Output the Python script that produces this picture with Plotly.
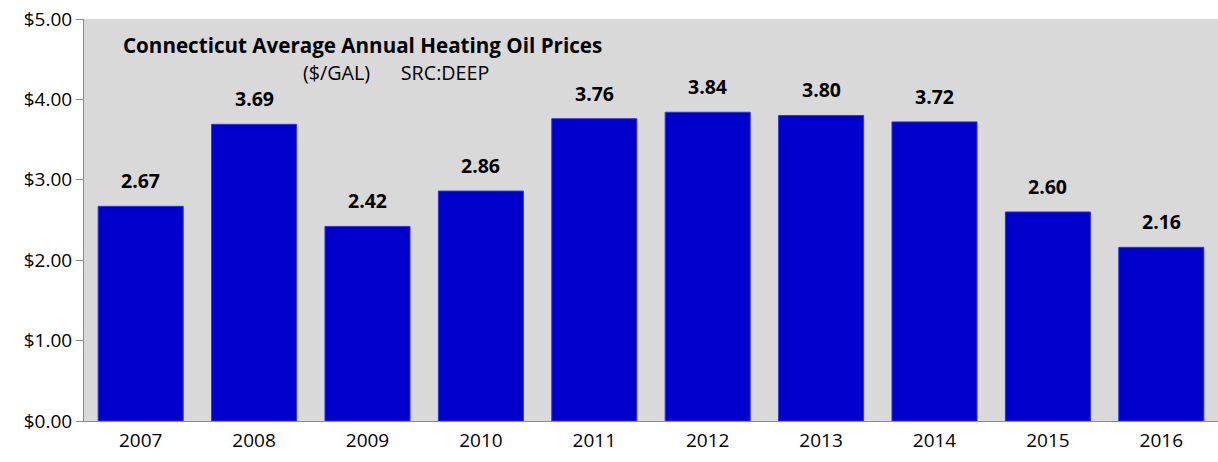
import plotly.graph_objects as go

years = ["2007", "2008", "2009", "2010", "2011", "2012", "2013", "2014", "2015", "2016"]
prices = [2.67, 3.69, 2.42, 2.86, 3.76, 3.84, 3.80, 3.72, 2.60, 2.16]
y_ticks = [0, 1, 2, 3, 4, 5]
y_tick_labels = ["$0.00", "$1.00", "$2.00", "$3.00", "$4.00", "$5.00"]

FONT = "'Open Sans', sans-serif"

PLOT_L, PLOT_R, PLOT_T, PLOT_B = 84, 1218, 19, 421
L, T = PLOT_L, PLOT_T
R, B = 1218 - PLOT_R, 462 - PLOT_B
PW, PH = PLOT_R - PLOT_L, PLOT_B - PLOT_T

fig = go.Figure(go.Bar(
    x=years, y=prices,
    marker=dict(color="#0000CC", line=dict(color="#3333DD", width=1)),
    hoverinfo="x+y",
))

# value labels above bars (category axis -> annotations use category index)
annotations = [
    dict(x=i, y=v, xref="x", yref="y", text=f"<b>{v:.2f}</b>",
         showarrow=False, yanchor="bottom", yshift=10,
         font=dict(family=FONT, size=19.5, color="black"))
    for i, v in enumerate(prices)
]
annotations += [
    dict(text="<b>Connecticut Average Annual Heating Oil Prices</b>",
         xref="paper", yref="paper", x=(121 - PLOT_L) / PW, y=1 - (45 - PLOT_T) / PH,
         xanchor="left", yanchor="middle", showarrow=False,
         font=dict(family=FONT, size=20.6, color="black")),
    dict(text="($/GAL)&nbsp;&nbsp;&nbsp;&nbsp;&nbsp;&nbsp;SRC:DEEP",
         xref="paper", yref="paper", x=(301 - PLOT_L) / PW, y=1 - (73 - PLOT_T) / PH,
         xanchor="left", yanchor="middle", showarrow=False,
         font=dict(family=FONT, size=19.7, color="black")),
]

fig.update_layout(
    width=1218, height=462,
    margin=dict(l=L, r=R, t=T, b=B),
    paper_bgcolor="white",
    plot_bgcolor="#D9D9D9",
    bargap=0.25,
    showlegend=False,
    font=dict(family=FONT, size=19, color="black"),
    xaxis=dict(
        type="category", range=[-0.5, len(years) - 0.5],
        showgrid=False, showline=True, linecolor="#8C8C8C", linewidth=1,
        ticks="", tickfont=dict(size=19), automargin=False,
        ticklabelstandoff=2,
    ),
    yaxis=dict(
        range=[0, 5], tickvals=y_ticks, ticktext=y_tick_labels,
        showgrid=False, showline=True, linecolor="#8C8C8C", linewidth=1,
        ticks="outside", ticklen=7, tickcolor="#8C8C8C",
        tickfont=dict(size=19), zeroline=False, automargin=False,
        ticklabeloverflow="allow",
    ),
    annotations=annotations,
)

fig.write_html(
    "out.html",
    config={"displayModeBar": False},
    post_script="document.body.style.margin='0';document.body.style.overflow='hidden';",
)
